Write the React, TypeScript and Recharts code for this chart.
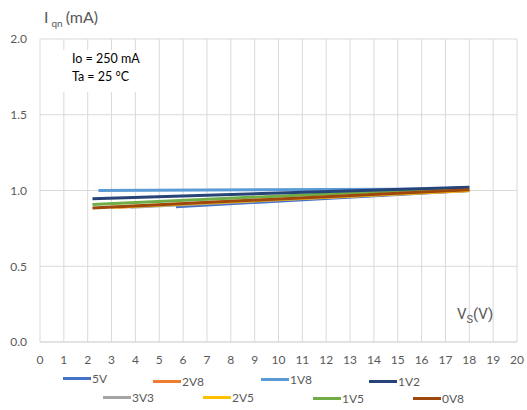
import React from 'react';
import { LineChart, Line, XAxis, YAxis, CartesianGrid } from 'recharts';

// Supply voltage (V) and quiescent current (mA)
const xTicks = [0, 1, 2, 3, 4, 5, 6, 7, 8, 9, 10, 11, 12, 13, 14, 15, 16, 17, 18, 19, 20];
const yTicks = [0, 0.5, 1.0, 1.5, 2.0];

const v5V = [{ x: 5.7, y: 0.893 }, { x: 18, y: 1.0 }];
const v2V8 = [{ x: 3.3, y: 0.89 }, { x: 18, y: 1.0 }];
const v3V3 = [{ x: 3.8, y: 0.89 }, { x: 18, y: 1.0 }];
const v2V5 = [{ x: 3.0, y: 0.89 }, { x: 18, y: 1.0 }];
const v1V8 = [{ x: 2.45, y: 1.0 }, { x: 18, y: 1.01 }];
const v1V5 = [{ x: 2.2, y: 0.908 }, { x: 18, y: 1.02 }];
const v1V2 = [{ x: 2.2, y: 0.945 }, { x: 18, y: 1.022 }];
const v0V8 = [{ x: 2.2, y: 0.885 }, { x: 18, y: 1.005 }];

// draw order = Excel series order (last on top)
const series = [
  { name: '5V', data: v5V, color: '#4472C4' },
  { name: '2V8', data: v2V8, color: '#ED7D31' },
  { name: '3V3', data: v3V3, color: '#A5A5A5' },
  { name: '2V5', data: v2V5, color: '#FFC000' },
  { name: '1V8', data: v1V8, color: '#5B9BD5' },
  { name: '1V5', data: v1V5, color: '#70AD47' },
  { name: '1V2', data: v1V2, color: '#264478' },
  { name: '0V8', data: v0V8, color: '#9E480E' },
];

// legend placement (staggered like the original), centre of the swatch line
const legendSpots: Record<string, { left: number; top: number }> = {
  '5V': { left: 63, top: 378 },
  '2V8': { left: 153, top: 381 },
  '1V8': { left: 261, top: 379 },
  '1V2': { left: 369, top: 381 },
  '3V3': { left: 103, top: 397 },
  '2V5': { left: 203, top: 397 },
  '1V5': { left: 313, top: 398 },
  '0V8': { left: 413, top: 398 },
};

const textColor = '#595959';
const font = 'Lato, "Noto Sans", sans-serif';

const App = () => {
  return (
    <div style={{ position: 'relative', width: 527, height: 410, background: '#fff', fontFamily: font }}>
      <style>{'body{margin:0;}'}</style>
      <LineChart width={527} height={410} margin={{ top: 39, right: 10, left: 0, bottom: 0 }}>
        <CartesianGrid stroke="#D9D9D9" strokeWidth={1} verticalValues={xTicks} horizontalValues={yTicks} />
        <XAxis
          type="number"
          dataKey="x"
          domain={[0, 20]}
          ticks={xTicks}
          interval={0}
          height={68}
          tickSize={0}
          tickMargin={13}
          axisLine={{ stroke: '#D9D9D9' }}
          tickLine={false}
          tick={{ fontSize: 12, fill: textColor, fontFamily: font }}
        />
        <YAxis
          type="number"
          dataKey="y"
          domain={[0, 2]}
          ticks={yTicks}
          width={40}
          tickSize={0}
          tickMargin={13}
          axisLine={false}
          tickLine={false}
          tickFormatter={(v: number) => v.toFixed(1)}
          tick={{ fontSize: 12, fill: textColor, fontFamily: font }}
        />
        {series.map((s) => (
          <Line
            key={s.name}
            data={s.data}
            dataKey="y"
            name={s.name}
            type="linear"
            stroke={s.color}
            strokeWidth={3}
            dot={false}
            activeDot={false}
            isAnimationActive={false}
          />
        ))}
      </LineChart>

      {/* axis titles */}
      <div style={{ position: 'absolute', left: 44, top: 7, fontSize: 16, color: textColor, whiteSpace: 'nowrap' }}>
        I<sub style={{ fontSize: 10, marginLeft: 3, marginRight: 3 }}>qn</sub>(mA)
      </div>
      <div style={{ position: 'absolute', left: 457, top: 305, fontSize: 15, color: textColor, whiteSpace: 'nowrap', fontFamily: 'Roboto, sans-serif' }}>
        V<sub style={{ fontSize: 11 }}>S</sub>(V)
      </div>

      {/* condition box */}
      <div
        style={{
          position: 'absolute',
          left: 62,
          top: 50,
          width: 84,
          height: 42,
          background: '#fff',
          fontSize: 12.5,
          color: '#000',
          lineHeight: '18px',
          paddingLeft: 10,
          boxSizing: 'border-box',
        }}
      >
        <div>Io = 250 mA</div>
        <div>Ta = 25 °C</div>
      </div>

      {/* legend */}
      {series.map((s) => {
        const p = legendSpots[s.name];
        return (
          <div
            key={s.name}
            style={{ position: 'absolute', left: p.left, top: p.top - 8, height: 16, display: 'flex', alignItems: 'center' }}
          >
            <div style={{ width: 28, height: 3, background: s.color, marginRight: 1 }} />
            <span style={{ fontSize: 12, color: textColor }}>{s.name}</span>
          </div>
        );
      })}
    </div>
  );
};

export default App;
